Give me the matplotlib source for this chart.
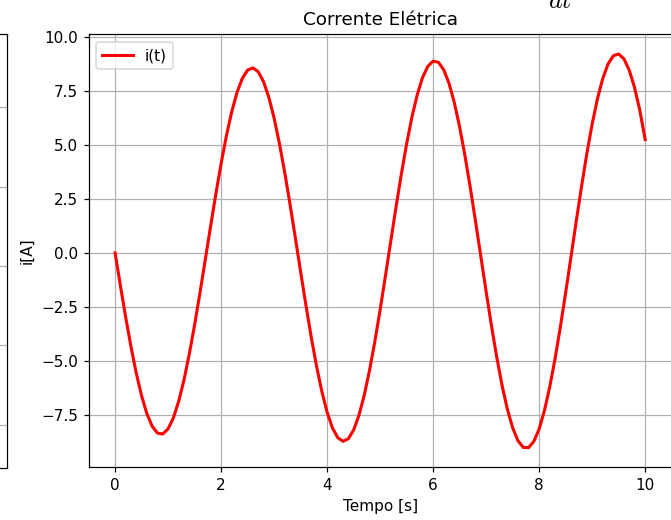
import matplotlib
matplotlib.use("Agg")
import matplotlib.pyplot as plt

# tempo [s] e corrente [A]
t = [round(0.1 * k, 1) for k in range(101)]
i_t = [
    0.000, -1.513, -2.978, -4.349, -5.578, -6.625, -7.453, -8.036, -8.353, -8.394,
    -8.155, -7.646, -6.881, -5.886, -4.694, -3.343, -1.877, -0.346, 1.199, 2.709,
    4.131, 5.420, 6.532, 7.428, 8.081, 8.466, 8.570, 8.391, 7.932, 7.209,
    6.245, 5.071, 3.726, 2.254, 0.705, -0.871, -2.422, -3.896, -5.243, -6.420,
    -7.385, -8.108, -8.563, -8.734, -8.615, -8.210, -7.532, -6.602, -5.450, -4.116,
    -2.641, -1.076, 0.529, 2.119, 3.642, 5.048, 6.288, 7.323, 8.117, 8.643,
    8.882, 8.827, 8.480, 7.849, 6.957, 5.830, 4.509, 3.035, 1.457, -0.172,
    -1.799, -3.370, -4.833, -6.138, -7.242, -8.107, -8.705, -9.015, -9.026, -8.738,
    -8.159, -7.307, -6.211, -4.907, -3.437, -1.850, -0.197, 1.465, 3.081, 4.599,
    5.967, 7.140, 8.078, 8.749, 9.132, 9.212, 8.986, 8.461, 7.654, 6.591,
    5.250,
]

# grade do gráfico vizinho (só a borda aparece)
vizinho_grid = [0.099, 0.283, 0.466, 0.649, 0.833]

DPI = 110
fig = plt.figure(figsize=(671 / DPI, 520 / DPI), dpi=DPI)

# gráfico à esquerda, cortado
ax0 = fig.add_axes([-0.5, 0.1, 0.5104, 0.834])
ax0.set_ylim(0, 1)
ax0.set_yticks(vizinho_grid)
ax0.set_xticks([])
ax0.grid(True)
ax0.tick_params(labelleft=False)

# corrente elétrica
ax = fig.add_axes([0.132, 0.1013, 0.869, 0.8327])
ax.plot(t, i_t, color="red", linewidth=2, label="i(t)")
ax.set_title("Corrente Elétrica")
ax.set_xlabel("Tempo [s]")
ax.set_ylabel("i[A]")
ax.grid(True)
ax.legend(loc="upper left")

# pedaço da equação acima do gráfico
plt.rcParams["mathtext.fontset"] = "cm"
fig.text(0.817, 0.9846, r"$dt$", fontsize=17, va="baseline", ha="left")

fig.savefig("out.png", dpi=DPI)
